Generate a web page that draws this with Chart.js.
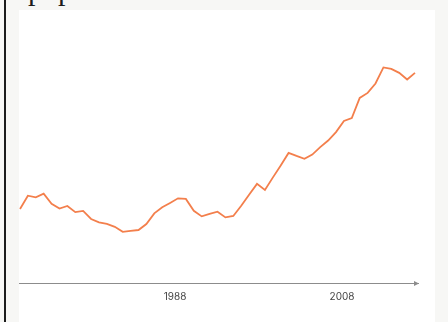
<!DOCTYPE html>
<html>
<head>
<meta charset="utf-8">
<script src="https://cdn.jsdelivr.net/npm/chart.js@4/dist/chart.umd.min.js"></script>
<style>
    html, body {
        margin: 0;
        padding: 0;
        width: 448px;
        height: 322px;
        overflow: hidden;
        background: #f7f7f5;
    }
    .rule {
        position: absolute;
        left: 4px;
        top: 0;
        width: 2px;
        height: 322px;
        background: #1c1c1c;
    }
    .heading {
        position: absolute;
        left: 28px;
        top: -24.6px;
        margin: 0;
        font-family: "Liberation Serif", "DejaVu Serif", serif;
        font-size: 30px;
        line-height: 30px;
        font-weight: normal;
        color: #1c1c1c;
        white-space: nowrap;
    }
    .card {
        position: absolute;
        left: 19px;
        top: 10px;
        width: 416px;
        height: 330px;
        background: #ffffff;
        overflow: hidden;
    }
    #chartCanvas {
        position: absolute;
        left: -49px;
        top: -10px;
    }
</style>
</head>
<body>
<div class="rule"></div>
<h2 class="heading">population</h2>
<div class="card">
    <canvas id="chartCanvas" width="480" height="322"></canvas>
</div>
<script>
// Observation dates (decimal years) and index values
const years = [
    1969.44, 1970.38, 1971.33, 1972.27, 1973.22, 1974.17, 1975.11, 1976.06, 1977.00, 1977.95,
    1978.90, 1979.84, 1980.79, 1981.74, 1982.68, 1983.63, 1984.57, 1985.52, 1986.47, 1987.41,
    1988.36, 1989.30, 1990.25, 1991.20, 1992.14, 1993.09, 1994.04, 1994.98, 1995.93, 1996.87,
    1997.82, 1998.77, 1999.71, 2000.66, 2001.60, 2002.55, 2003.50, 2004.44, 2005.39, 2006.34,
    2007.28, 2008.23, 2009.17, 2010.12, 2011.07, 2012.01, 2012.96, 2013.90, 2014.85, 2015.80,
    2016.74
];
const values = [
    36.9, 43.5, 42.7, 44.5, 39.5, 37.1, 38.4, 35.3, 35.9, 31.9,
    30.2, 29.4, 28.0, 25.5, 26.0, 26.4, 29.4, 34.7, 37.7, 39.9,
    42.2, 41.9, 36.0, 33.2, 34.4, 35.5, 32.7, 33.4, 38.5, 44.0,
    49.4, 46.4, 52.5, 58.5, 64.8, 63.3, 61.9, 64.0, 67.7, 71.0,
    75.2, 80.7, 82.2, 92.2, 94.7, 99.4, 107.4, 106.7, 104.7, 101.4,
    104.7
];
const tickYears = [1968, 1988, 2008];

const lineColor = "#f37f4c";
const axisColor = "#8c8c8c";

// Small arrowhead at the right end of the x axis
const axisArrow = {
    id: "axisArrow",
    afterDraw(chart) {
        const ctx = chart.ctx;
        const area = chart.chartArea;
        const y = Math.round(area.bottom) + 0.5;
        ctx.save();
        ctx.fillStyle = axisColor;
        ctx.beginPath();
        ctx.moveTo(area.right + 1, y);
        ctx.lineTo(area.right - 4, y - 2.5);
        ctx.lineTo(area.right - 4, y + 2.5);
        ctx.closePath();
        ctx.fill();
        ctx.restore();
    }
};

const ctx = document.getElementById("chartCanvas").getContext("2d");
const chartInstance = new Chart(ctx, {
    type: "line",
    data: {
        datasets: [{
            data: years.map((yr, i) => ({ x: yr, y: values[i] })),
            borderColor: lineColor,
            borderWidth: 1.8,
            pointRadius: 0,
            tension: 0,
            fill: false
        }]
    },
    options: {
        responsive: false,
        devicePixelRatio: 1,
        animation: false,
        layout: {
            padding: { left: 38, right: 32, top: 2, bottom: 11 }
        },
        plugins: {
            legend: { display: false },
            tooltip: { enabled: false }
        },
        scales: {
            x: {
                type: "linear",
                min: 1968,
                max: 2017.1,
                grid: { display: false, drawTicks: false },
                border: { display: true, color: axisColor, width: 1 },
                afterBuildTicks: (scale) => {
                    scale.ticks = tickYears.map(v => ({ value: v }));
                },
                ticks: {
                    padding: 8,
                    color: "#444444",
                    font: { family: "Inter", size: 10 },
                    maxRotation: 0,
                    autoSkip: false,
                    callback: (v) => String(v)
                }
            },
            y: {
                display: false,
                min: 0,
                max: 140
            }
        }
    },
    plugins: [axisArrow]
});
</script>
</body>
</html>
